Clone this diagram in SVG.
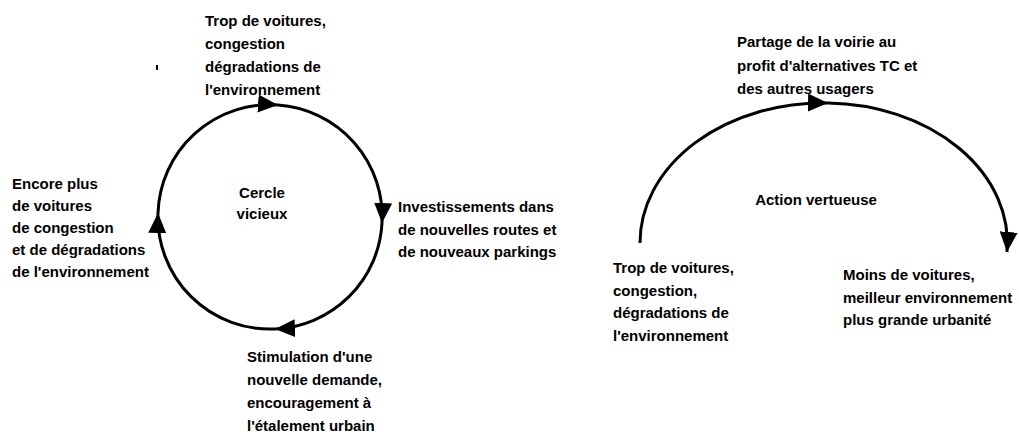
<svg xmlns="http://www.w3.org/2000/svg" width="1019" height="438" viewBox="0 0 1019 438">
<style>
  text { font-family: "Liberation Sans", Arial, sans-serif; font-size: 15px; font-weight: bold; fill: #000; }
  .c { text-anchor: middle; }
  .arc { fill: none; stroke: #000; stroke-width: 3; }
</style>
<defs>
  <marker id="ah" markerUnits="userSpaceOnUse" markerWidth="22" markerHeight="18" refX="20" refY="9" orient="auto">
    <path d="M0,0 L20,9 L0,18 z" fill="#000"/>
  </marker>
</defs>
<rect width="1019" height="438" fill="#fff"/>
<rect x="156" y="65" width="2" height="5" fill="#000"/>
<g id="connectors">
  <path class="arc" d="M158,213 A112,112 0 0 1 278,105" marker-end="url(#ah)"/>
  <path class="arc" d="M278,105 A112,112 0 0 1 382,223" marker-end="url(#ah)"/>
  <path class="arc" d="M382,223 A112,112 0 0 1 275,329" marker-end="url(#ah)"/>
  <path class="arc" d="M275,329 A112,112 0 0 1 158,213" marker-end="url(#ah)"/>
  <path class="arc" d="M640,243 A183,140 0 0 1 828,103" marker-end="url(#ah)"/>
  <path class="arc" d="M828,103 A183,140 0 0 1 1007,252" marker-end="url(#ah)"/>
</g>
<g id="n-top-left">
  <text x="205" y="26">Trop de voitures,</text>
  <text x="205" y="49">congestion</text>
  <text x="205" y="72">dégradations de</text>
  <text x="205" y="95">l'environnement</text>
</g>
<g id="n-right-left">
  <text x="398" y="212">Investissements dans</text>
  <text x="398" y="235">de nouvelles routes et</text>
  <text x="398" y="257">de nouveaux parkings</text>
</g>
<g id="n-bottom-left">
  <text x="247" y="362">Stimulation d'une</text>
  <text x="247" y="385">nouvelle demande,</text>
  <text x="247" y="408">encouragement à</text>
  <text x="247" y="431">l'étalement urbain</text>
</g>
<g id="n-left">
  <text x="12" y="189">Encore plus</text>
  <text x="12" y="211">de voitures</text>
  <text x="12" y="233">de congestion</text>
  <text x="12" y="255">et de dégradations</text>
  <text x="12" y="277">de l'environnement</text>
</g>
<g id="n-center-left">
  <text class="c" x="262" y="198">Cercle</text>
  <text class="c" x="262" y="219">vicieux</text>
</g>
<g id="n-top-right">
  <text x="737" y="47">Partage de la voirie au</text>
  <text x="737" y="71">profit d'alternatives TC et</text>
  <text x="737" y="94">des autres usagers</text>
</g>
<g id="n-center-right">
  <text class="c" x="816" y="205">Action vertueuse</text>
</g>
<g id="n-bottom-right-a">
  <text x="613" y="273">Trop de voitures,</text>
  <text x="613" y="296">congestion,</text>
  <text x="613" y="318">dégradations de</text>
  <text x="613" y="341">l'environnement</text>
</g>
<g id="n-bottom-right-b">
  <text x="843" y="280">Moins de voitures,</text>
  <text x="843" y="303">meilleur environnement</text>
  <text x="843" y="325">plus grande urbanité</text>
</g>
</svg>
